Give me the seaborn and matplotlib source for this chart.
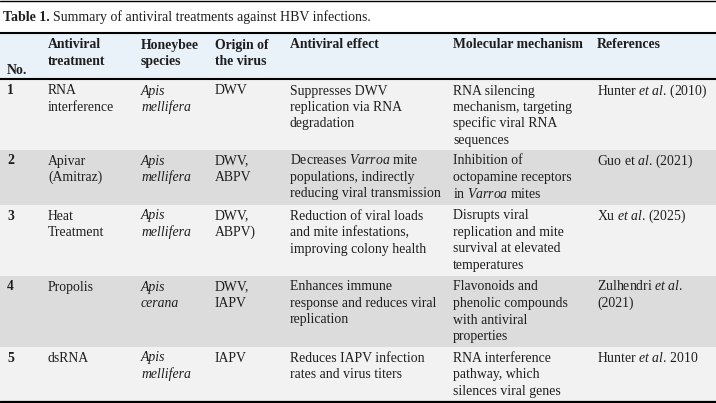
"""
Table 1 - Summary of antiviral treatments against HBV infections.

Draws the table as a matplotlib figure (pixel coordinates on one axes).
"""

import matplotlib

matplotlib.use("Agg")
import matplotlib.pyplot as plt
import seaborn as sns

OUT_PATH = "out.png"

# ---- table data -----------------------------------------------------------
title_label = "Table 1."
title_text = "Summary of antiviral treatments against HBV infections."

header_cells = [
    "No.",
    "Antiviral\ntreatment",
    "Honeybee\nspecies",
    "Origin of\nthe virus",
    "Antiviral effect",
    "Molecular mechanism",
    "References",
]

numbers = ["1", "2", "3", "4", "5"]
treatments = ["RNA\ninterference", "Apivar\n(Amitraz)", "Heat\nTreatment", "Propolis", "dsRNA"]
species = ["Apis\nmellifera", "Apis\nmellifera", "Apis\nmellifera", "Apis\ncerana", "Apis\nmellifera"]
origins = ["DWV", "DWV,\nABPV", "DWV,\nABPV)", "DWV,\nIAPV", "IAPV"]
effects = [
    "Suppresses DWV\nreplication via RNA\ndegradation",
    "Decreases $\\mathit{Varroa}$ mite\npopulations, indirectly\nreducing viral transmission",
    "Reduction of viral loads\nand mite infestations,\nimproving colony health",
    "Enhances immune\nresponse and reduces viral\nreplication",
    "Reduces IAPV infection\nrates and virus titers",
]
mechanisms = [
    "RNA silencing\nmechanism, targeting\nspecific viral RNA\nsequences",
    "Inhibition of\noctopamine receptors\nin $\\mathit{Varroa}$ mites",
    "Disrupts viral\nreplication and mite\nsurvival at elevated\ntemperatures",
    "Flavonoids and\nphenolic compounds\nwith antiviral\nproperties",
    "RNA interference\npathway, which\nsilences viral genes",
]
references = [
    "Hunter $\\mathit{et\\ al}$. (2010)",
    "Guo et $\\mathit{al}$. (2021)",
    "Xu $\\mathit{et\\ al}$. (2025)",
    "Zulhendri $\\mathit{et\\ al}$.\n(2021)",
    "Hunter $\\mathit{et\\ al}$. 2010",
]

# ---- layout (pixels) -----------------------------------------------------
W, H = 716, 403
col_x = [7, 48, 141, 215, 290, 453, 597]
row_tops = [80, 150, 205, 276, 347]
table_bottom = 400
line_step = 16.5
first_baseline = 14.5

header_bg = "#e9f1f9"
row_bg = ["#f2f2f3", "#dcdcdc"]
ink = "#1e1e1e"
fs = 9.9
title_fs = 10.0


def draw_cell(ax, x, y0, text, italic=False, bold=False):
    for i, line in enumerate(text.split("\n")):
        ax.text(
            x, y0 + i * line_step, line,
            fontsize=fs, color=ink, va="baseline", ha="left",
            fontstyle="italic" if italic else "normal",
            fontweight="bold" if bold else "normal",
        )


def main():
    sns.set_style("white")
    plt.rcParams["font.family"] = ["Liberation Serif", "DejaVu Serif"]
    plt.rcParams["mathtext.fontset"] = "custom"
    plt.rcParams["mathtext.rm"] = "Liberation Serif"
    plt.rcParams["mathtext.it"] = "Liberation Serif:italic"
    plt.rcParams["mathtext.bf"] = "Liberation Serif:bold"

    fig = plt.figure(figsize=(W / 100, H / 100), dpi=100)
    ax = fig.add_axes([0, 0, 1, 1])
    ax.set_xlim(0, W)
    ax.set_ylim(H, 0)
    ax.axis("off")

    # backgrounds
    ax.axhspan(34, 78, color=header_bg, lw=0)
    bounds = row_tops + [table_bottom]
    for i in range(len(row_tops)):
        ax.axhspan(bounds[i], bounds[i + 1], color=row_bg[i % 2], lw=0)

    # rules
    ax.axhline(0.5, color="black", lw=1.0)
    ax.axhline(33, color="black", lw=1.5)
    ax.axhline(78.5, color="black", lw=1.5)
    ax.axhline(401.5, color="black", lw=2.4)

    # title: bold label, then regular text right after it
    lab = ax.text(3, 21, title_label, fontsize=title_fs, fontweight="bold",
                  color=ink, va="baseline", ha="left")
    renderer = fig.canvas.get_renderer()
    x_end = lab.get_window_extent(renderer).x1
    ax.text(x_end + 3.5, 21, title_text, fontsize=title_fs, color=ink,
            va="baseline", ha="left")

    # header
    for j, cell in enumerate(header_cells):
        y0 = 73.5 if j == 0 else 48.5
        draw_cell(ax, col_x[j], y0, cell, bold=True)

    # body
    columns = [numbers, treatments, species, origins, effects, mechanisms, references]
    for i, top in enumerate(row_tops):
        for j, col in enumerate(columns):
            draw_cell(ax, col_x[j], top + first_baseline, col[i],
                      italic=(j == 2), bold=(j == 0))

    fig.savefig(OUT_PATH, dpi=100)
    plt.close(fig)


if __name__ == "__main__":
    main()
